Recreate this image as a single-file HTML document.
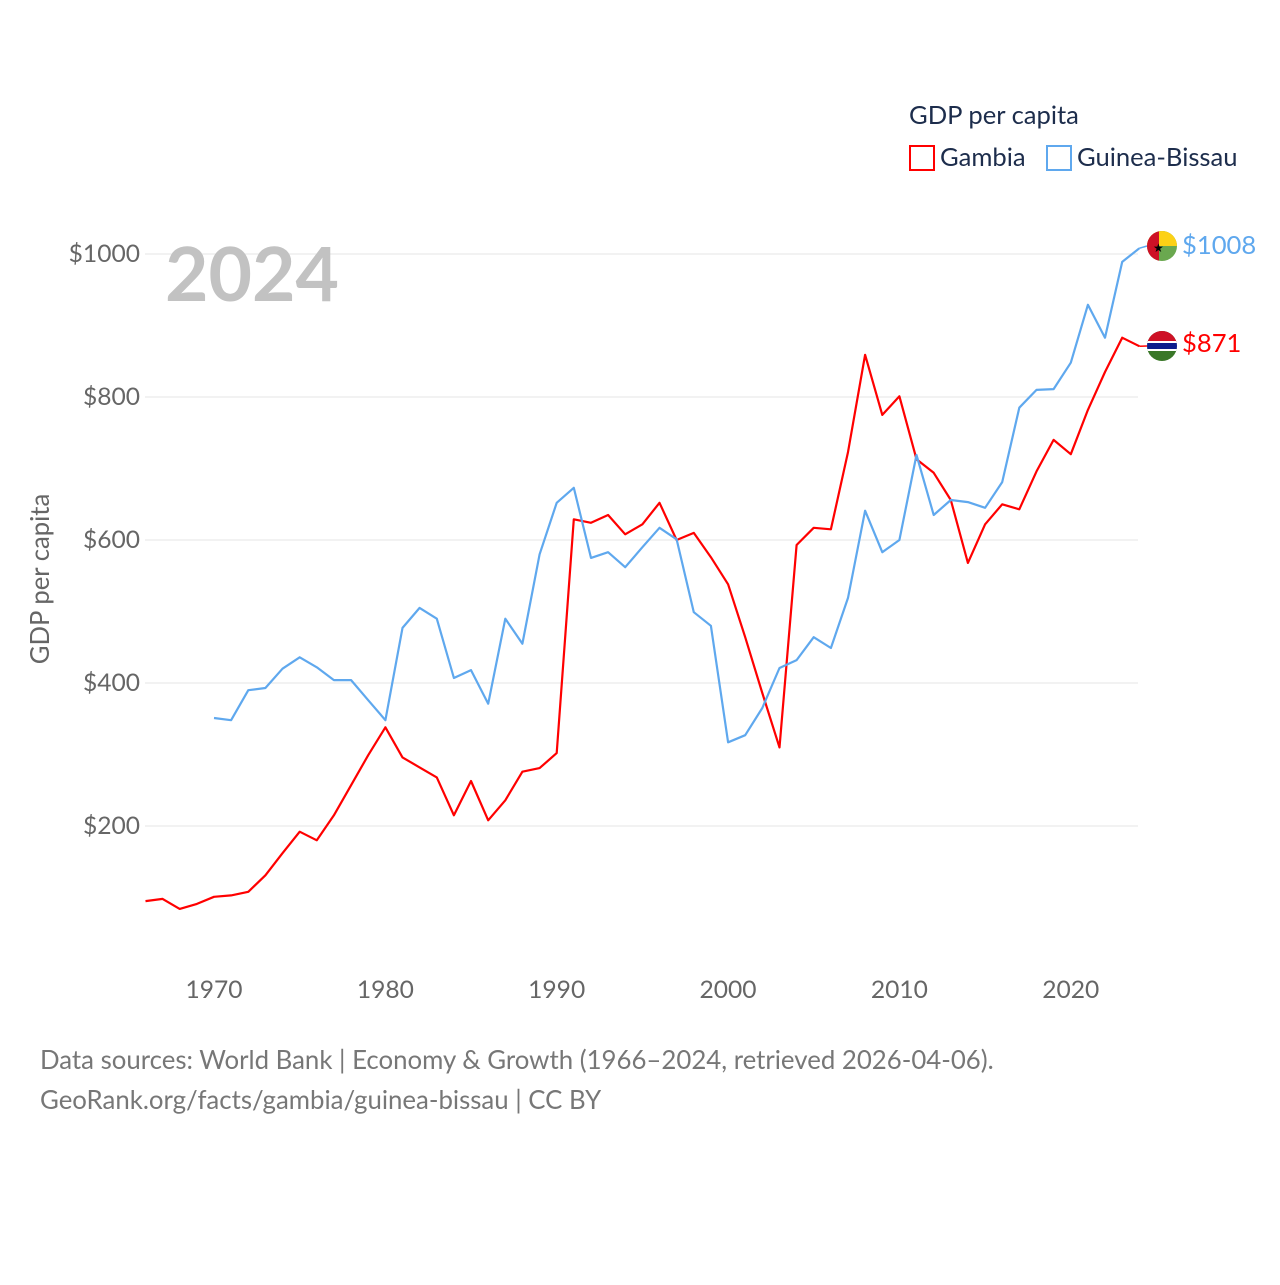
<!DOCTYPE html>
<html><head><meta charset="utf-8"><style>
html,body{margin:0;padding:0;background:#fff;}
body{width:1280px;height:1280px;overflow:hidden;font-family:"Liberation Sans",sans-serif;}
</style></head><body>
<svg id="chart" width="1280" height="1280" xmlns="http://www.w3.org/2000/svg" font-family="Lato, 'Liberation Sans', sans-serif">
<g id="grid"></g>
<g id="yticks"></g>
<g id="xticks"></g>
<text x="165" y="301" font-size="75" font-weight="bold" fill="#c2c2c2">2024</text>
<text transform="translate(49,579) rotate(-90)" text-anchor="middle" font-size="25.7" fill="#666">GDP per capita</text>
<g id="series"></g>
<g>
<text x="909" y="124" font-size="25.6" fill="#1d2d4c">GDP per capita</text>
<rect x="910" y="146" width="24" height="24" fill="none" stroke="#ff0000" stroke-width="2"/>
<text x="940" y="166" font-size="25.6" fill="#1d2d4c">Gambia</text>
<rect x="1047" y="146" width="24" height="24" fill="none" stroke="#5fa8ee" stroke-width="2"/>
<text x="1077" y="166" font-size="25.6" fill="#1d2d4c">Guinea-Bissau</text>
</g>
<defs>
<clipPath id="c1"><circle cx="1162" cy="246" r="15"/></clipPath>
<clipPath id="c2"><circle cx="1162" cy="346" r="15"/></clipPath>
</defs>
<g clip-path="url(#c1)">
<rect x="1147" y="231" width="30" height="30" fill="#6aa84f"/>
<rect x="1147" y="231" width="30" height="15" fill="#fcd116"/>
<rect x="1147" y="231" width="12" height="30" fill="#ce1126"/>
<text x="1153" y="252" font-size="12" fill="#000">★</text>
</g>
<g clip-path="url(#c2)">
<rect x="1147" y="331" width="30" height="30" fill="#3a7728"/>
<rect x="1147" y="331" width="30" height="11" fill="#ce1126"/>
<rect x="1147" y="341" width="30" height="10" fill="#fff"/>
<rect x="1147" y="343" width="30" height="6" fill="#0c1c8c"/>
</g>
<text x="1182" y="254" font-size="25.6" fill="#5fa8ee">$1008</text>
<text x="1182" y="352" font-size="25.6" fill="#ff0000">$871</text>
<text x="40" y="1069" font-size="25.8" fill="#777">Data sources: World Bank | Economy &amp; Growth (1966–2024, retrieved 2026-04-06).</text>
<text x="40" y="1109" font-size="25.8" fill="#777">GeoRank.org/facts/gambia/guinea-bissau | CC BY</text>
</svg>
<script>
const yTicks=[200,400,600,800,1000];
const yTickLabels=["$200","$400","$600","$800","$1000"];
const xTicks=[1970,1980,1990,2000,2010,2020];
const gambiaStart=1966;
const gambiaValues=[95,98,84,91,101,103,108,131,162,192,180,215,257,299,338,296,282,268,215,263,208,236,276,281,302,629,624,635,608,622,652,600,610,576,538,464,386,310,593,617,615,723,859,775,801,713,694,656,568,622,650,643,696,740,720,782,835,883,871];
const gbStart=1970;
const gbValues=[351,348,390,393,420,436,422,404,404,376,348,477,505,490,407,418,371,490,455,580,652,673,575,583,562,590,617,601,499,480,317,327,365,421,432,464,449,519,641,583,600,719,635,656,653,645,681,785,810,811,848,929,883,989,1008];

const NS="http://www.w3.org/2000/svg";
function X(yr){return 214+(yr-1970)*17.135;}
function Y(v){return 969-v*0.715;}
function mk(tag,attrs,parent){const e=document.createElementNS(NS,tag);for(const k in attrs)e.setAttribute(k,attrs[k]);parent.appendChild(e);return e;}
const grid=document.getElementById('grid'),yt=document.getElementById('yticks'),xt=document.getElementById('xticks'),ser=document.getElementById('series');
yTicks.forEach((v,i)=>{
  const l=mk('line',{x1:145,x2:1138,y1:Y(v),y2:Y(v),stroke:'#e6e6e6','stroke-width':1},grid);
  
  
  const t=mk('text',{x:140,y:Y(v)+8,'text-anchor':'end','font-size':24.6,fill:'#666'},yt);
  t.textContent=yTickLabels[i];
  
  
});
xTicks.forEach(yr=>{
  const t=mk('text',{x:X(yr),y:998,'text-anchor':'middle','font-size':24.6,fill:'#666'},xt);
  t.textContent=yr;
  
  
});
function line(start,vals,color,name,flagY){
  let d=vals.map((v,i)=>(i?'L':'M')+X(start+i).toFixed(1)+','+Y(v).toFixed(1)).join(' ');
  const p=mk('path',{d:d,fill:'none',stroke:color,'stroke-width':2.2,'stroke-linejoin':'round'},ser);
  
  
  const last=vals[vals.length-1];
  const c=mk('line',{x1:X(start+vals.length-1),y1:Y(last),x2:1147,y2:flagY,stroke:color,'stroke-width':1.5},ser);
  
  
}
line(gambiaStart,gambiaValues,'#ff0000','line-gambia',346);
line(gbStart,gbValues,'#5fa8ee','line-guinea-bissau',246);
</script>
</body></html>
